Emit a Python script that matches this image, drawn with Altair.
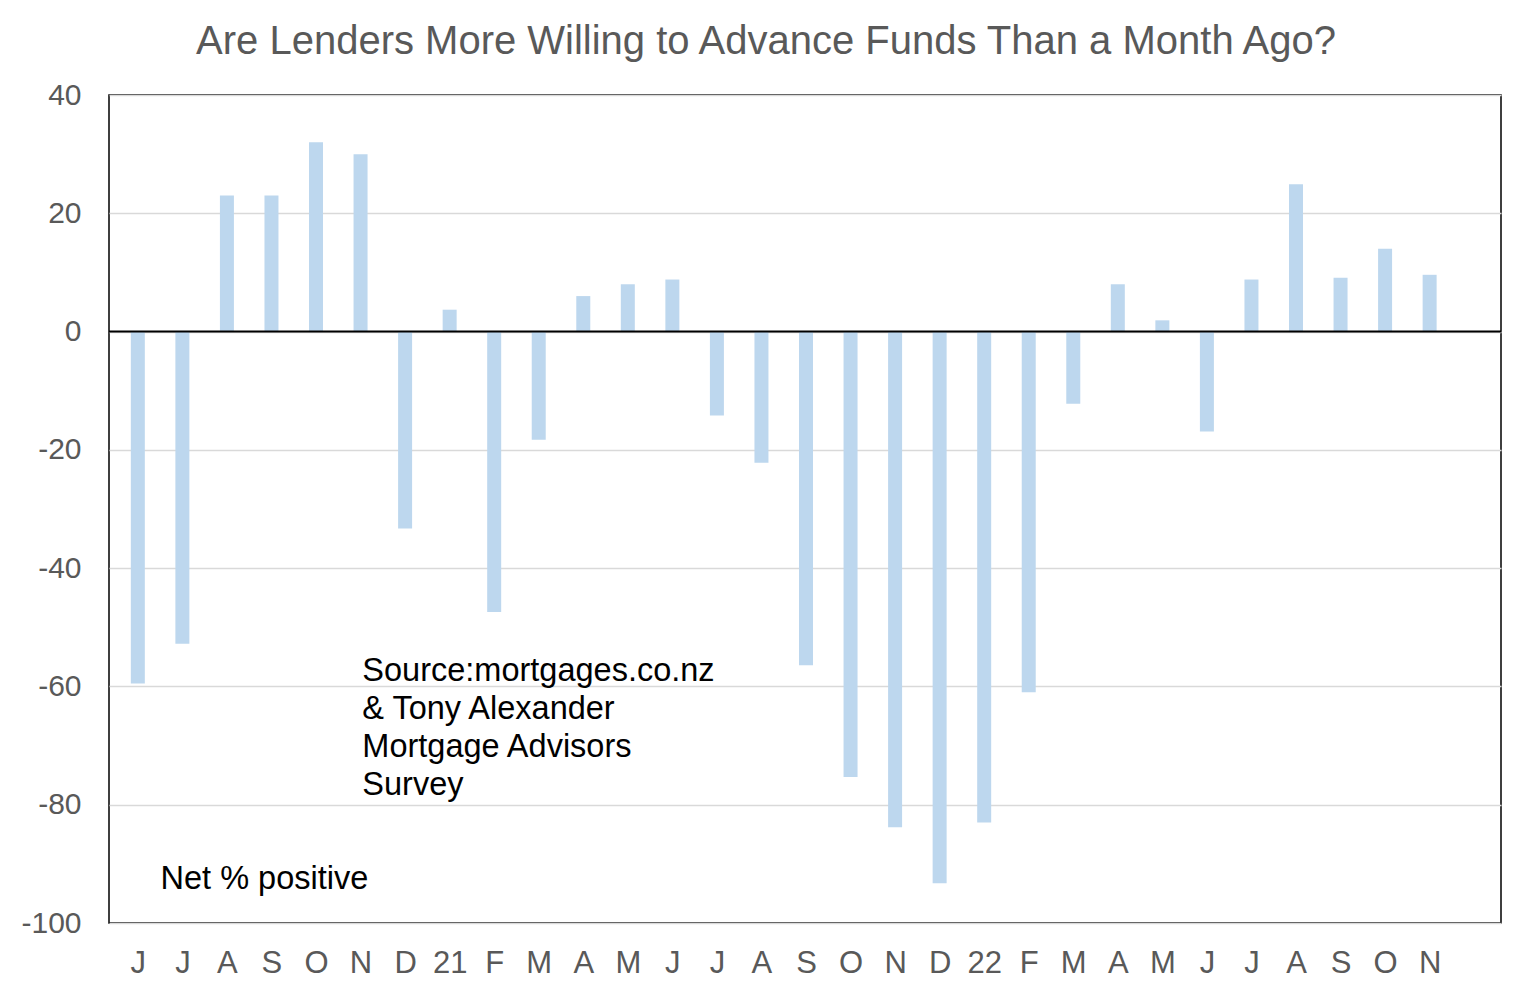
import altair as alt
import pandas as pd

labels = ["J", "J", "A", "S", "O", "N", "D", "21", "F", "M", "A", "M", "J",
          "J", "A", "S", "O", "N", "D", "22", "F", "M", "A", "M", "J",
          "J", "A", "S", "O", "N"]
values = [-59.5, -52.8, 23, 23, 32, 30, -33.3, 3.7, -47.4, -18.3, 6, 8, 8.8,
          -14.2, -22.2, -56.4, -75.3, -83.8, -93.3, -83, -61, -12.2, 8, 1.9, -16.9,
          8.8, 24.9, 9.1, 14, 9.6]

source_text = ["Source:mortgages.co.nz", "& Tony Alexander", "Mortgage Advisors", "Survey"]
net_text = "Net % positive"

df = pd.DataFrame({"i": list(range(len(values))), "v": values})

label_js = "[" + ",".join('"%s"' % l for l in labels) + "]"

x_scale = alt.Scale(domain=[-0.535, 30.49], nice=False, zero=False)
y_scale = alt.Scale(domain=[-100, 40], nice=False)

bars = alt.Chart(df).mark_bar(size=14, color="#BDD7EE").encode(
    x=alt.X("i:Q", scale=x_scale,
            axis=alt.Axis(values=list(range(len(labels))), labelExpr=label_js + "[datum.value]",
                          grid=False, ticks=False, domain=False, title=None,
                          labelFont="Liberation Sans", labelFontSize=31, labelColor="#595959",
                          labelPadding=25, labelFlush=False, labelOverlap=False)),
    y=alt.Y("v:Q", scale=y_scale,
            axis=alt.Axis(values=list(range(-100, 41, 20)), grid=True, gridColor="#D9D9D9",
                          gridWidth=1.5, ticks=False, domain=False, title=None,
                          labelExpr="toString(datum.value)",
                          labelFont="Liberation Sans", labelFontSize=30, labelColor="#595959",
                          labelPadding=28)),
)

zero = alt.Chart(pd.DataFrame({"z": [0]})).mark_rule(color="black", strokeWidth=2).encode(
    y=alt.Y("z:Q", scale=y_scale)
)

ann = pd.DataFrame({"x": [5.04], "y": [-59.1], "t": [source_text]})
src = alt.Chart(ann).mark_text(align="left", baseline="alphabetic", font="Liberation Sans",
                               fontSize=32.5, color="black", lineHeight=38).encode(
    x=alt.X("x:Q", scale=x_scale), y=alt.Y("y:Q", scale=y_scale), text="t"
)

ann2 = pd.DataFrame({"x": [0.51], "y": [-94.25], "t": [net_text]})
net = alt.Chart(ann2).mark_text(align="left", baseline="alphabetic", font="Liberation Sans",
                                fontSize=32.5, color="black").encode(
    x=alt.X("x:Q", scale=x_scale), y=alt.Y("y:Q", scale=y_scale), text="t"
)

chart = alt.layer(bars, zero, src, net).properties(
    width=1392, height=828,
    background="white",
    padding={"left": 12, "top": 13, "right": 5, "bottom": 5},
    title=alt.TitleParams("Are Lenders More Willing to Advance Funds Than a Month Ago?",
                          font="Liberation Sans", fontSize=40, fontWeight="normal",
                          color="#595959", anchor="middle", dx=-39, offset=18.5),
).configure_view(stroke="black", strokeWidth=1.5)

chart.save("out.html", embed_options={"renderer": "svg", "actions": False})
